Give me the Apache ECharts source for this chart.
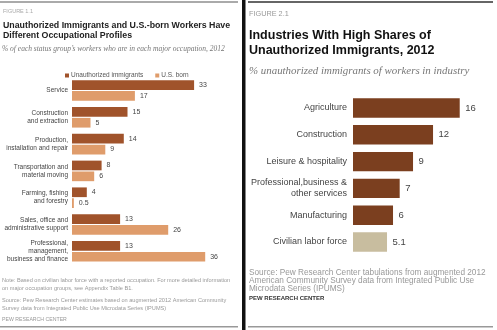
<!DOCTYPE html>
<html><head><meta charset="utf-8">
<script src="https://cdn.jsdelivr.net/npm/echarts@6/dist/echarts.min.js"></script>
<style>html,body{margin:0;padding:0;background:#fff}#c{width:497px;height:330px}</style>
</head><body><div id="c"></div>
<script>
const occCategories = ['Service','Construction\nand extraction','Production,\ninstallation and repair','Transportation and\nmaterial moving','Farming, fishing\nand forestry','Sales, office and\nadministrative support','Professional,\nmanagement,\nbusiness and finance'];
const unauthorizedShare = [33,15,14,8,4,13,13];
const usBornShare = [17,5,9,6,0.5,26,36];
const seriesNames = ['Unauthorized immigrants','U.S. born'];
const industryCategories = ['Agriculture','Construction','Leisure & hospitality','Professional,business &\nother services','Manufacturing','Civilian labor force'];
const industryShare = [16,12,9,7,6,5.1];

const SANS = 'Liberation Sans, Arial, sans-serif';
const SERIF = 'Liberation Serif, Times New Roman, serif';

function txt(x, y, s, o) {
  return Object.assign({type:'text', x:x, y:y, style:Object.assign({text:s, fontFamily:SANS, fill:'#999', fontSize:6, textVerticalAlign:'middle'}, o||{})});
}
function line(x, y, w, h, c) {
  return {type:'rect', shape:{x:x, y:y, width:w, height:h}, style:{fill:c}};
}

const chart = echarts.init(document.getElementById('c'), null, {renderer:'canvas'});
const industryData = industryShare.map((v,i) => i === industryShare.length-1 ? {value:v, itemStyle:{color:'#c8bd9f'}} : v);

chart.setOption({
  animation:false,
  backgroundColor:'#fff',
  legend:{
    data:seriesNames, left:60, top:67, itemWidth:4, itemHeight:4, itemGap:12, icon:'rect',
    textStyle:{fontSize:6.5, color:'#555', fontFamily:SANS, padding:[0,0,0,-3]}
  },
  grid:[
    {left:72, top:77.1, width:148, height:187.6},
    {left:353, top:94.6, width:133.4, height:160.8}
  ],
  xAxis:[
    {gridIndex:0, type:'value', min:0, max:40, show:false},
    {gridIndex:1, type:'value', min:0, max:20, show:false}
  ],
  yAxis:[
    {gridIndex:0, type:'category', data:occCategories, inverse:true,
     axisLine:{show:false}, axisTick:{show:false}, splitLine:{show:false},
     axisLabel:{margin:4, fontSize:6.5, lineHeight:8, color:'#444', fontFamily:SANS}},
    {gridIndex:1, type:'category', data:industryCategories, inverse:true,
     axisLine:{show:false}, axisTick:{show:false}, splitLine:{show:false},
     axisLabel:{margin:6, fontSize:9, lineHeight:11, color:'#444', fontFamily:SANS}}
  ],
  series:[
    {name:seriesNames[0], type:'bar', xAxisIndex:0, yAxisIndex:0, data:unauthorizedShare,
     barWidth:9.7, barGap:'12%', itemStyle:{color:'#a0532b'},
     label:{show:true, position:'right', distance:5, fontSize:7, color:'#444', fontFamily:SANS}},
    {name:seriesNames[1], type:'bar', xAxisIndex:0, yAxisIndex:0, data:usBornShare,
     barWidth:9.7, barGap:'12%', itemStyle:{color:'#df9c6b'},
     label:{show:true, position:'right', distance:5, fontSize:7, color:'#444', fontFamily:SANS}},
    {name:'Industry', type:'bar', xAxisIndex:1, yAxisIndex:1, data:industryData,
     barWidth:19.4, itemStyle:{color:'#7b3f1f'},
     label:{show:true, position:'right', distance:5.5, fontSize:9.5, color:'#444', fontFamily:SANS}}
  ],
  graphic:[
    line(0, 1, 238, 2, '#aaa'),
    line(242, 0, 3.5, 330, '#111'),
    line(248, 1, 245, 2, '#666'),
    line(0, 326, 238, 1.5, '#999'),
    line(248, 326, 245, 1.5, '#999'),
    txt(3, 11, 'FIGURE 1.1', {fontSize:5.5, fill:'#aaa'}),
    txt(3, 25.8, 'Unauthorized Immigrants and U.S.-born Workers Have', {fontSize:8.8, fontWeight:'bold', fill:'#222'}),
    txt(3, 36, 'Different Occupational Profiles', {fontSize:8.8, fontWeight:'bold', fill:'#222'}),
    txt(2, 49.3, '% of each status group\u2019s workers who are in each major occupation, 2012', {fontSize:7.5, fontStyle:'italic', fill:'#777', fontFamily:SERIF}),
    txt(2, 280.7, 'Note: Based on civilian labor force with a reported occupation. For more detailed information', {fontSize:5.6}),
    txt(2, 288.7, 'on major occupation groups, see Appendix Table B1.', {fontSize:5.6}),
    txt(2, 300, 'Source: Pew Research Center estimates based on augmented 2012 American Community', {fontSize:5.6}),
    txt(2, 308, 'Survey data from Integrated Public Use Microdata Series (IPUMS)', {fontSize:5.6}),
    txt(2, 319.3, 'PEW RESEARCH CENTER', {fontSize:5.2}),
    txt(249, 14, 'FIGURE 2.1', {fontSize:7.3, fill:'#999'}),
    txt(249, 35.5, 'Industries With High Shares of', {fontSize:12.5, fontWeight:'bold', fill:'#111'}),
    txt(249, 51, 'Unauthorized Immigrants, 2012', {fontSize:12.5, fontWeight:'bold', fill:'#111'}),
    txt(249, 70.7, '% unauthorized immigrants of workers in industry', {fontSize:10.9, fontStyle:'italic', fill:'#777', fontFamily:SERIF}),
    txt(249, 272.7, 'Source: Pew Research Center tabulations from augmented 2012', {fontSize:8.25, fill:'#999'}),
    txt(249, 281, 'American Community Survey data from Integrated Public Use', {fontSize:8.25, fill:'#999'}),
    txt(249, 289.2, 'Microdata Series (IPUMS)', {fontSize:8.25, fill:'#999'}),
    txt(249, 298.3, 'PEW RESEARCH CENTER', {fontSize:6, fontWeight:'bold', fill:'#333'})
  ]
});
</script></body></html>
